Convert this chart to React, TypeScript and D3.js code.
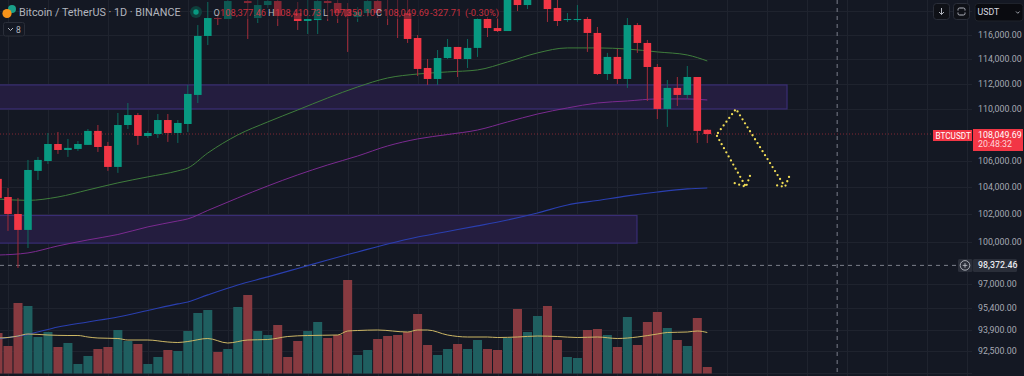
import React from "react";
import * as d3 from "d3";

const opens = [104630,103280,102030,100870,105230,105980,107280,106820,106900,107210,108290,107130,105530,108750,109530,107900,108050,109140,108130,108830,111120,115920,117420,117340,119120,118860,117420,118520,118860,119460,117840,117170,117250,118860,118690,118180,117510,117840,118860,119460,119460,117840,115750,113290,112400,114100,115010,114020,114930,117340,116580,116330,119120,118520,119120,119120,118270,117250,117250,117340,116170,112800,114190,112400,116830,115340,113370,110010,111680,111120,112560,108377.46];
const highs = [104930,103950,103210,106060,106290,108130,108210,107670,107510,108440,108750,107440,109690,110480,109690,108290,109610,109610,109140,111920,116830,118780,117840,119200,119630,119120,119030,119120,119030,119630,118780,118950,119120,119120,119030,118690,118350,119030,119030,119630,119630,119120,116000,114020,114760,115670,115010,115670,117420,117510,117420,119290,119290,119290,119630,119290,119120,117840,118520,117510,116670,114520,114840,117420,117000,115590,113610,112320,112560,113450,112560,108410.73];
const lows = [102990,100800,98160,99570,104550,105750,106520,106290,106750,107210,106670,105230,105080,108440,107210,107750,107750,107440,107360,108210,110480,115170,116830,117340,119030,115670,117000,118270,116750,119030,116420,116080,116080,117170,117000,114600,117090,117510,117420,116830,115750,115340,112640,111920,111920,114020,112560,113290,114190,115830,116250,116330,118010,118180,119030,117090,116750,117090,117090,114600,112720,112320,112000,111680,114520,110640,109220,108600,110240,110800,107360,107350.1];
const closes = [103210,102030,100870,105300,106060,107280,106820,106980,107280,108290,107050,105530,108750,109530,107900,108130,109140,108130,108910,111200,115920,117420,117340,118860,119460,118690,118520,118860,117590,119030,117170,117340,118860,118690,117840,117590,117930,118860,117840,119030,119030,115670,113210,112400,114100,115010,114020,114930,117340,116580,116330,119120,118520,119120,119460,118180,117170,117340,117340,116170,112800,114190,112400,116830,115340,113370,110010,111680,111120,112560,108290,108049.69];
const volumes = [40.5,27.5,70.5,67.5,36.5,41.5,26.5,30.5,9.5,17.5,24.5,26.5,43.5,32.5,29.5,9.5,16.5,23.5,22.5,42.5,60.5,63.5,21.5,24.5,66.5,78.5,42.5,38.5,48.5,16.5,32.5,42.5,51.5,35.5,38.5,93.5,18.5,23.5,34.5,37.5,38.5,41.5,59.5,28.5,18.5,24.5,29.5,24.5,33.5,24.5,23.5,35.5,64.5,41.5,57.5,67.5,33.5,16.5,15.5,43.5,44.5,38.5,26.5,56.5,28.5,51.5,61.5,45.5,33.5,27.5,55.5,6.5];

const maIndex = [0,3,6,9,12,15,18,19,21,24,27,30,33,36,39,42,45,48,51,54,57,60,63,66,69,71];
const maGreen = [103130,103030,103280,103800,104330,104780,105230,105450,106590,107980,108990,109930,110880,111760,112480,112800,112970,113130,113780,114520,114930,114930,114840,114600,114350,113860];
const maPurple = [99070,99220,99720,100150,100540,101090,101520,101670,102290,103210,104100,104930,105680,106360,107130,107670,108010,108360,108990,109610,110090,110480,110640,110800,110800,110720];
const maBlue = [93290,93590,94090,94430,94770,95210,95660,95790,96280,96970,97530,98120,98720,99290,99860,100360,100760,101160,101590,102100,102690,103020,103360,103650,103880,103950];

const volMaIndex = [0,1,2,3,5,7,8,9,10,12,13,15,17,18,19,21,23,25,27,29,31,34,35,36,38,41,42,43,45,47,49,50,52,54,56,58,60,62,64,66,67,69,70,71];
const volMa = [35.5,36,37.5,39.5,38.5,38,38,36.5,35.5,35,33.5,33.5,31.5,31,32,35,30.5,33.5,34,37,38,38.5,42.5,43,43.5,41.5,43.5,43.5,38.5,36.5,36.5,36,36.5,37.5,37,36,36.5,35,36.5,39.5,41,41.5,42.5,41];

const priceTicks = [116000,114000,112000,110000,106000,104000,102000,100000,97000,95400,93900,92500];
const gridIndex = [1,5,11,15,19,23,27,31,35,38,42,46,50,54,58,62,66,73,77,81,85,89,93,97];
const lastPrice = 108049.69;
const crossPrice = 98372.46;
const crossIndex = 84;
const zones = [
  { from: -1, to: 78.98, top: 111920, bottom: 110010 },
  { from: -1, to: 63.96, top: 101920, bottom: 99920 },
];
const arrowLegA: [number, number][] = [[72.07,108130],[73.87,110010],[78.78,104030]];
const arrowBarbA: [number, number][] = [[79.18,104780],[78.78,104030],[77.68,104180]];
const arrowLegB: [number, number][] = [[71.97,107900],[74.87,104030]];
const arrowBarbB: [number, number][] = [[75.27,104850],[74.87,104030],[73.67,104330]];

const x = d3.scaleLinear().domain([0, 71]).range([-2, 707.3]);
const y = d3.scaleLog().domain([116000, 100000]).range([35, 242]);
const yVol = d3.scaleLinear().domain([0, 100]).range([373.5, 273.5]);

const BG = "#141823";
const UP = "#089981";
const DOWN = "#f23645";
const FONT = "Roboto, sans-serif";
const fmt = d3.format(",.2f");

const priceLine = d3.line<[number, number]>().x((d) => x(d[0])).y((d) => y(d[1])).curve(d3.curveMonotoneX);
const rawLine = d3.line<[number, number]>().x((d) => x(d[0])).y((d) => y(d[1]));
const volLine = d3.line<[number, number]>().x((d) => x(d[0])).y((d) => yVol(d[1])).curve(d3.curveMonotoneX);
const zip = (a: number[], b: number[]) => a.map((v, i) => [v, b[i]] as [number, number]);

export default function App() {
  const yLast = y(lastPrice);
  const yCross = y(crossPrice);
  const xCross = x(crossIndex);
  return (
    <svg width={1024} height={376} style={{ position: "fixed", left: 0, top: 0, display: "block", fontFamily: FONT }}>
      <rect width={1024} height={376} fill={BG} />
      <g stroke="#1f232e" strokeWidth={1}>
        {gridIndex.map((g) => (
          <line key={g} x1={Math.round(x(g)) + 0.5} x2={Math.round(x(g)) + 0.5} y1={0} y2={376} />
        ))}
        {[118000, ...priceTicks].map((p) => (
          <line key={p} x1={0} x2={972} y1={Math.round(y(p)) + 0.5} y2={Math.round(y(p)) + 0.5} />
        ))}
        <line x1={0} x2={972} y1={373.5} y2={373.5} />
      </g>

      {zones.map((z, i) => (
        <rect key={i} x={x(z.from)} width={x(z.to) - x(z.from)} y={y(z.top)} height={y(z.bottom) - y(z.top)}
          fill="#241d3f" stroke="#392d74" strokeWidth={1.2} />
      ))}

      <g>
        {volumes.map((v, i) => (
          <rect key={i} x={x(i) - 4.5} width={9} y={yVol(v)} height={yVol(0) - yVol(v)}
            fill={closes[i] >= opens[i] ? "#1f5f60" : "#873a40"} />
        ))}
      </g>

      <line x1={0} x2={933} y1={yLast} y2={yLast} stroke={DOWN} strokeOpacity={0.5} strokeDasharray="1 2" />
      <line x1={0} x2={958} y1={yCross + 0.5} y2={yCross + 0.5} stroke="#7b7f8a" strokeDasharray="4 4" />
      <line x1={xCross} x2={xCross} y1={0} y2={376} stroke="#7b7f8a" strokeDasharray="4 4" />

      <path d={priceLine(zip(maIndex, maGreen)) ?? ""} fill="none" stroke="#3f7d3c" strokeWidth={1} />
      <path d={priceLine(zip(maIndex, maPurple)) ?? ""} fill="none" stroke="#7b2a90" strokeWidth={1} />
      <path d={priceLine(zip(maIndex, maBlue)) ?? ""} fill="none" stroke="#2a3fb0" strokeWidth={1.1} />
      <path d={volLine(zip(volMaIndex, volMa)) ?? ""} fill="none" stroke="#cdb765" strokeWidth={1} />

      <g>
        {opens.map((o, i) => {
          const c = closes[i];
          const up = c >= o;
          const col = up ? UP : DOWN;
          const top = y(Math.max(o, c));
          const bot = y(Math.min(o, c));
          return (
            <g key={i}>
              <line x1={x(i)} x2={x(i)} y1={y(highs[i])} y2={y(lows[i])} stroke={up ? "#0d6a5e" : "#a32c3a"} strokeWidth={1} />
              <rect x={x(i) - 3.8} width={7.6} y={top} height={Math.max(bot - top, 1)} fill={col} />
            </g>
          );
        })}
      </g>

      <g fill="none" stroke="#f0dc55" strokeWidth={2.3} strokeLinecap="round" strokeDasharray="0 4.7">
        <path d={rawLine(arrowLegA) ?? ""} />
        <path d={rawLine(arrowBarbA) ?? ""} />
        <path d={rawLine(arrowLegB) ?? ""} />
        <path d={rawLine(arrowBarbB) ?? ""} />
      </g>

      {/* legend */}
      <rect x={212} y={0} width={288} height={19} fill={BG} opacity={0.5} />
      <circle cx={12} cy={9} r={4} fill="#1aa08a" />
      <circle cx={7} cy={13.5} r={4.6} fill="#f7931a" />
      <text x={19} y={16} fontSize={10.8} fill="#b2b5be">Bitcoin / TetherUS · 1D · BINANCE</text>
      <circle cx={196} cy={12} r={6} fill="#0f3f3c" />
      <circle cx={196} cy={12} r={2.7} fill="#089981" />
      <g fontSize={9.3} fill="#b2b5be">
        <text x={213.5} y={15.5}>O</text>
        <text x={268} y={15.5}>H</text>
        <text x={323} y={15.5}>L</text>
        <text x={376} y={15.5}>C</text>
      </g>
      <g fontSize={9.3} fill={DOWN} fillOpacity={0.8}>
        <text x={220} y={15.5}>108,377.46</text>
        <text x={275} y={15.5}>108,410.73</text>
        <text x={329} y={15.5}>107,350.10</text>
        <text x={383} y={15.5}>108,049.69</text>
        <text x={430} y={15.5}>-327.71</text>
        <text x={465} y={15.5}>(-0.30%)</text>
      </g>
      <rect x={3.5} y={22.5} width={21} height={13.5} rx={2} fill={BG} stroke="#2a2e39" />
      <path d="M8 28 l2.5 2.5 l2.5 -2.5" fill="none" stroke="#b2b5be" strokeWidth={1} />
      <text x={16} y={32.5} fontSize={8.5} fill="#b2b5be">8</text>

      {/* price axis */}
      <g fontSize={8.8} fill="#a6a9b3">
        {priceTicks.map((p) => (
          <text key={p} x={978} y={y(p) + 3}>{fmt(p)}</text>
        ))}
      </g>
      <rect x={933} y={130} width={39} height={11} fill={DOWN} />
      <text x={935.5} y={138.5} fontSize={8.2} fill="#fff">BTCUSDT</text>
      <rect x={973} y={129} width={50} height={22} fill={DOWN} />
      <text x={978} y={138} fontSize={8.8} fill="#fff">{fmt(lastPrice)}</text>
      <text x={978} y={147} fontSize={8.8} fill="#ffd5d9">20:48:32</text>

      <rect x={958} y={yCross - 6} width={14.5} height={13} rx={1.5} fill="#2a2e39" />
      <circle cx={965} cy={yCross + 0.5} r={4.8} fill="none" stroke="#c8cbd3" strokeWidth={0.8} />
      <path d={`M965 ${yCross - 1.8} v4.6 M962.7 ${yCross + 0.5} h4.6`} stroke="#c8cbd3" strokeWidth={0.8} />
      <rect x={973} y={yCross - 6} width={44} height={13} rx={1.5} fill="#2a2e39" />
      <text x={978} y={yCross + 3.5} fontSize={8.8} fontWeight={500} fill="#e6e8ee">{fmt(crossPrice)}</text>

      {/* toolbar */}
      <rect x={933.5} y={3.5} width={16} height={16} rx={3} fill="#0f1117" stroke="#2a2e39" />
      <path d="M941.5 8 v6.5 M939 12 l2.5 2.5 l2.5 -2.5" fill="none" stroke="#b2b5be" strokeWidth={1} />
      <rect x={953.5} y={3.5} width={16} height={16} rx={3} fill="#0f1117" stroke="#2a2e39" />
      <path d="M958 10.5 v-1 a1.5 1.5 0 0 1 1.5 -1.5 h4 a1.5 1.5 0 0 1 1.5 1.5 v1 M965 12.5 v1 a1.5 1.5 0 0 1 -1.5 1.5 h-4 a1.5 1.5 0 0 1 -1.5 -1.5 v-1" fill="none" stroke="#b2b5be" strokeWidth={1} />
      <rect x={975} y={3.5} width={48} height={17.5} rx={3} fill="#0a0b10" stroke="#1e222b" />
      <text x={977.5} y={15} fontSize={8.8} fill="#d8dae0">USDT</text>
      <path d="M1016 11.5 l1.8 1.8 l1.8 -1.8" fill="none" stroke="#b2b5be" strokeWidth={0.9} />
    </svg>
  );
}
